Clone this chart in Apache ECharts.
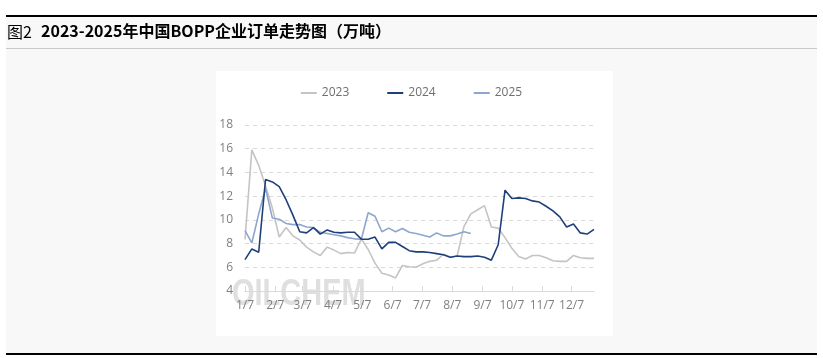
<!DOCTYPE html>
<html>
<head>
<meta charset="utf-8">
<script src="https://cdn.jsdelivr.net/npm/echarts@6/dist/echarts.min.js"></script>
<style>
html,body{margin:0;padding:0;background:#fff;}
#c{width:823px;height:358px;}
</style>
</head>
<body>
<div id="c"></div>
<script>
// Weekly observations, first week at day-of-year 7, one point per week
const startDay = 7;
const tickLabels = ['1/7','2/7','3/7','4/7','5/7','6/7','7/7','8/7','9/7','10/7','11/7','12/7'];
const tickDays = [7,38,66,97,127,158,188,219,250,280,311,341];
const s2023 = [8.35,15.9,14.6,12.85,11.0,8.55,9.35,8.65,8.3,7.7,7.3,7.0,7.7,7.45,7.15,7.25,7.2,8.4,7.5,6.35,5.5,5.35,5.1,6.15,6.05,6.0,6.3,6.5,6.6,7.1,6.85,6.95,9.45,10.5,10.85,11.2,9.4,9.3,8.5,7.6,6.9,6.7,7.0,7.0,6.8,6.55,6.5,6.5,7.0,6.8,6.75,6.75];
const s2024 = [6.65,7.55,7.27,13.4,13.2,12.8,11.7,10.4,9.0,8.9,9.35,8.8,9.15,8.95,8.9,8.95,8.95,8.37,8.37,8.55,7.55,8.1,8.1,7.75,7.4,7.3,7.3,7.25,7.15,7.05,6.85,6.95,6.9,6.9,6.95,6.85,6.6,7.9,12.5,11.8,11.85,11.8,11.6,11.5,11.15,10.75,10.25,9.4,9.65,8.9,8.8,9.2];
const s2025 = [9.1,8.05,10.5,12.65,10.15,10.05,9.7,9.6,9.6,9.4,9.35,8.95,8.85,8.75,8.65,8.5,8.4,8.37,10.6,10.3,9.0,9.3,9.0,9.27,8.95,8.85,8.7,8.55,8.9,8.65,8.65,8.8,9.0,8.85];
const seriesNames = ['2023','2024','2025'];
const colors = ['#c4c4c4','#1f3f7a','#8ea6cf'];

function toPairs(arr){ return arr.map((v,i)=>[startDay+7*i, v]); }

const chart = echarts.init(document.getElementById('c'), null, {renderer:'canvas'});
const labelMap = {};
tickDays.forEach((d,i)=>labelMap[d]=tickLabels[i]);

chart.setOption({
  animation:false,
  backgroundColor:'#ffffff',
  graphic:[
    {type:'rect', shape:{x:6,y:16,width:811,height:338}, style:{fill:'#f8f8f8'}, z:-10, silent:true},
    {type:'rect', shape:{x:6,y:15,width:811,height:2}, style:{fill:'#000'}, z:-5},
    {type:'rect', shape:{x:6,y:48,width:811,height:1}, style:{fill:'#c8c8c8'}, z:-5},
    {type:'rect', shape:{x:6,y:353,width:811,height:2}, style:{fill:'#000'}, z:-5},
    {type:'rect', shape:{x:216,y:71,width:397,height:265}, style:{fill:'#ffffff'}, z:-8},
    {type:'text', left:7, top:24, style:{text:'图2', font:'16px "Noto Sans CJK SC"', fill:'#000'}},
    {type:'text', left:41, top:23, style:{text:'2023-2025年中国BOPP企业订单走势图（万吨）', font:'bold 16px "Noto Sans CJK SC"', fill:'#000'}},
    {type:'text', x:232, y:276, scaleY:1.3, style:{text:'OILCHEM', font:'bold 29px "Liberation Sans"', fill:'rgba(185,185,185,0.45)'}, z:-1}
  ],
  legend:{
    top:82, left:'center',
    itemWidth:16, itemHeight:2, itemGap:38,
    icon:'rect',
    textStyle:{color:'#6f6f6f', fontSize:12, fontFamily:'"Open Sans"'},
    data:seriesNames
  },
  grid:{left:245, right:229, top:125, bottom:67, containLabel:false},
  xAxis:{
    type:'value', min:7, max:364,
    axisLine:{show:true, lineStyle:{color:'#d9d9d9'}},
    axisTick:{show:true, inside:true, length:5, lineStyle:{color:'#d9d9d9'}, customValues:tickDays},
    axisLabel:{color:'#7f7f7f', fontSize:12, fontFamily:'"Open Sans"', margin:9, customValues:tickDays,
      formatter:(v)=>labelMap[v]||''},
    splitLine:{show:false}
  },
  yAxis:{
    type:'value', min:4, max:18, interval:2,
    axisLine:{show:false}, axisTick:{show:false},
    axisLabel:{color:'#7f7f7f', fontSize:12, fontFamily:'"Open Sans"', margin:12},
    splitLine:{show:true, lineStyle:{color:'#d9d9d9', type:[4,4]}}
  },
  series:[
    {name:'2023', type:'line', data:toPairs(s2023), symbol:'none', lineStyle:{width:1.6, color:colors[0]}, itemStyle:{color:colors[0]}, z:2},
    {name:'2024', type:'line', data:toPairs(s2024), symbol:'none', lineStyle:{width:1.6, color:colors[1]}, itemStyle:{color:colors[1]}, z:4},
    {name:'2025', type:'line', data:toPairs(s2025), symbol:'none', lineStyle:{width:1.6, color:colors[2]}, itemStyle:{color:colors[2]}, z:3}
  ]
});
</script>
</body>
</html>
